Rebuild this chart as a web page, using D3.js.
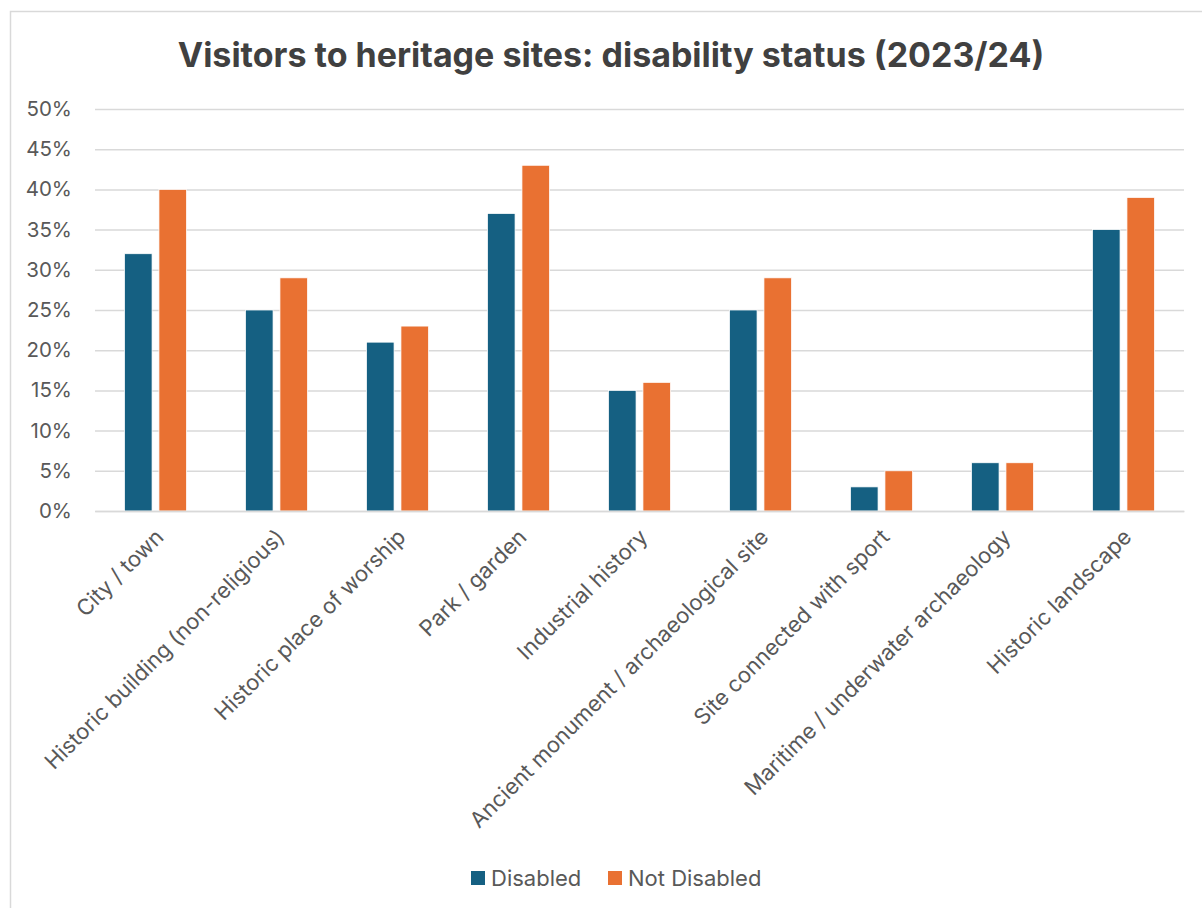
<!DOCTYPE html>
<html>
<head>
<meta charset="utf-8">
<script src="https://cdn.jsdelivr.net/npm/d3@7"></script>
<style>
  html, body { margin: 0; padding: 0; background: #ffffff; }
  svg { display: block; }
  text { font-family: Inter, "Open Sans", "Liberation Sans", sans-serif; }
</style>
</head>
<body>
<svg id="chart" width="1202" height="908"></svg>
<script>
// Share of visitors to each type of heritage site, by disability status
const categories = [
  "City / town",
  "Historic building (non-religious)",
  "Historic place of worship",
  "Park / garden",
  "Industrial history",
  "Ancient monument / archaeological site",
  "Site connected with sport",
  "Maritime / underwater archaeology",
  "Historic landscape"
];
const seriesNames = ["Disabled", "Not Disabled"];
const disabled    = [0.32, 0.25, 0.21, 0.37, 0.15, 0.25, 0.03, 0.06, 0.35];
const notDisabled = [0.40, 0.29, 0.23, 0.43, 0.16, 0.29, 0.05, 0.06, 0.39];
const yTicks = [0, 0.05, 0.10, 0.15, 0.20, 0.25, 0.30, 0.35, 0.40, 0.45, 0.50];
const titleText = "Visitors to heritage sites: disability status (2023/24)";

const colors = ["#156082", "#E97132"];
const seriesValues = [disabled, notDisabled];

const svg = d3.select("#chart");
const W = 1202, H = 908;

// chart frame
svg.append("rect")
  .attr("x", 10.5).attr("y", 11.5)
  .attr("width", W + 20).attr("height", H + 20)
  .attr("fill", "#ffffff").attr("stroke", "#d9d9d9").attr("stroke-width", 1.5);

const plot = { left: 95, right: 1184, top: 109, bottom: 511 };

const x = d3.scaleBand()
  .domain(categories)
  .range([plot.left, plot.right])
  .paddingInner(0).paddingOuter(0);

const groupW = 62;
const xs = d3.scaleBand()
  .domain(seriesNames)
  .range([0, groupW])
  .paddingInner(0.2);

const y = d3.scaleLinear().domain([0, 0.5]).range([plot.bottom, plot.top]);

// title
svg.append("text")
  .attr("x", 611).attr("y", 67)
  .attr("text-anchor", "middle")
  .attr("font-size", 34).attr("font-weight", 700)
  .attr("fill", "#404040")
  .text(titleText);

// gridlines and y labels
const yAxis = d3.axisLeft(y)
  .tickValues(yTicks)
  .tickFormat(d3.format(".0%"))
  .tickSize(-(plot.right - plot.left))
  .tickPadding(23);

const gy = svg.append("g")
  .attr("transform", `translate(${plot.left},0)`)
  .call(yAxis);
gy.select(".domain").remove();
gy.selectAll(".tick line").attr("stroke", "#d9d9d9").attr("stroke-width", 1.5);
gy.selectAll(".tick text")
  .attr("fill", "#595959").attr("font-size", 20.5)
  .style("font-family", "Inter, 'Open Sans', sans-serif");

// bars
const groups = svg.append("g").selectAll("g")
  .data(categories)
  .join("g")
  .attr("transform", d => `translate(${x(d) + (x.bandwidth() - groupW) / 2},0)`);

groups.selectAll("rect")
  .data((d, i) => seriesNames.map((s, j) => ({ s, v: seriesValues[j][i], c: colors[j] })))
  .join("rect")
  .attr("x", d => xs(d.s))
  .attr("width", xs.bandwidth())
  .attr("y", d => y(d.v))
  .attr("height", d => y(0) - y(d.v))
  .attr("fill", d => d.c)
  .attr("stroke", "#ffffff").attr("stroke-width", 0.75);

// x axis labels
const xAxis = d3.axisBottom(x).tickSize(0).tickPadding(0);
const gx = svg.append("g")
  .attr("transform", `translate(0,${plot.bottom})`)
  .call(xAxis);
gx.select(".domain").attr("stroke", "#d9d9d9").attr("stroke-width", 1.5);
gx.selectAll(".tick text")
  .attr("fill", "#595959").attr("font-size", 22)
  .style("font-family", "Inter, 'Open Sans', sans-serif")
  .attr("text-anchor", "end")
  .attr("dy", "0.35em")
  .attr("y", 0)
  .attr("transform", "translate(4,22) rotate(-45)");

// legend
const legend = svg.append("g").attr("transform", "translate(471,871)");
const legendOffsets = [0, 137];
seriesNames.forEach((s, j) => {
  const g = legend.append("g").attr("transform", `translate(${legendOffsets[j]},0)`);
  g.append("rect").attr("width", 14).attr("height", 14).attr("fill", colors[j]);
  g.append("text").attr("x", 20).attr("y", 14.5)
    .attr("font-size", 22).attr("fill", "#595959").text(s);
});
</script>
</body>
</html>
